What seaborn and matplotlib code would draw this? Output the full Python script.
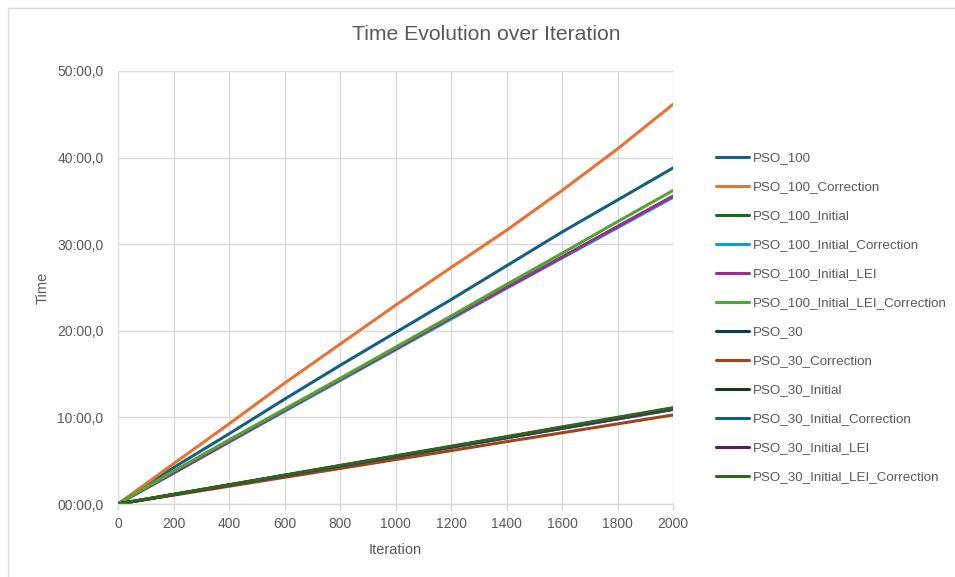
import matplotlib
matplotlib.use("Agg")
import matplotlib.pyplot as plt
from matplotlib.patches import Rectangle
from matplotlib.lines import Line2D
from matplotlib.ticker import FuncFormatter
import seaborn as sns
import pandas as pd

# ---- data (time in minutes) ----
iterations = [0, 200, 400, 600, 800, 1000, 1200, 1400, 1600, 1800, 2000]

series_names = [
    "PSO_100", "PSO_100_Correction", "PSO_100_Initial", "PSO_100_Initial_Correction",
    "PSO_100_Initial_LEI", "PSO_100_Initial_LEI_Correction", "PSO_30", "PSO_30_Correction",
    "PSO_30_Initial", "PSO_30_Initial_Correction", "PSO_30_Initial_LEI",
    "PSO_30_Initial_LEI_Correction",
]

pso_100 = [0, 4.2, 8.1, 12.1, 16.0, 19.8, 23.6, 27.5, 31.4, 35.1, 38.8]
pso_100_correction = [0, 4.65, 9.25, 13.95, 18.45, 22.95, 27.3, 31.6, 36.2, 41.0, 46.15]
pso_100_initial = [0, 3.6, 7.2, 10.8, 14.35, 17.9, 21.45, 25.0, 28.5, 32.0, 35.5]
pso_100_initial_correction = [0, 3.55, 7.15, 10.7, 14.25, 17.8, 21.35, 24.9, 28.4, 31.9, 35.4]
pso_100_initial_lei = [0, 3.6, 7.2, 10.8, 14.35, 17.9, 21.5, 25.0, 28.5, 32.05, 35.55]
pso_100_initial_lei_correction = [0, 3.8, 7.4, 10.95, 14.5, 18.1, 21.7, 25.35, 28.95, 32.6, 36.2]
pso_30 = [0, 1.08, 2.17, 3.27, 4.37, 5.46, 6.55, 7.65, 8.75, 9.85, 10.95]
pso_30_correction = [0, 1.02, 2.05, 3.08, 4.1, 5.13, 6.16, 7.2, 8.22, 9.25, 10.28]
pso_30_initial = [0, 1.1, 2.2, 3.31, 4.42, 5.52, 6.63, 7.73, 8.84, 9.95, 11.05]
pso_30_initial_correction = [0, 1.09, 2.18, 3.27, 4.36, 5.45, 6.54, 7.63, 8.72, 9.81, 10.9]
pso_30_initial_lei = [0, 1.1, 2.2, 3.3, 4.4, 5.5, 6.6, 7.7, 8.8, 9.9, 11.0]
pso_30_initial_lei_correction = [0, 1.11, 2.22, 3.34, 4.45, 5.56, 6.67, 7.78, 8.9, 10.01, 11.12]

all_values = [
    pso_100, pso_100_correction, pso_100_initial, pso_100_initial_correction,
    pso_100_initial_lei, pso_100_initial_lei_correction, pso_30, pso_30_correction,
    pso_30_initial, pso_30_initial_correction, pso_30_initial_lei,
    pso_30_initial_lei_correction,
]

colors = [
    "#156082", "#E97132", "#196B24", "#0F9ED5", "#A02B93", "#4EA72E",
    "#0C3A4E", "#A0441A", "#0F4016", "#0A6384", "#601A58", "#2F661B",
]

y_ticks_minutes = [0, 10, 20, 30, 40, 50]
x_ticks = [0, 200, 400, 600, 800, 1000, 1200, 1400, 1600, 1800, 2000]

rows = []
for name, vals in zip(series_names, all_values):
    for it, v in zip(iterations, vals):
        rows.append({"Iteration": it, "Time": v, "Series": name})
df = pd.DataFrame(rows)

# ---- plotting ----
sns.set_theme(style="white")
plt.rcParams["font.family"] = ["Liberation Sans", "DejaVu Sans"]

W, H = 955, 577
fig = plt.figure(figsize=(W / 100, H / 100), dpi=100)
ax = fig.add_axes([118 / W, 1 - 504 / H, (673 - 118) / W, (504 - 71) / H])

sns.lineplot(data=df, x="Iteration", y="Time", hue="Series", hue_order=series_names,
             palette=colors, linewidth=2.2, ax=ax, legend=False, sort=False)

ax.set_xlim(0, 2000)
ax.set_ylim(0, 50)
ax.set_xticks(x_ticks)
ax.set_yticks(y_ticks_minutes)

def fmt(v, pos):
    m = int(round(v))
    return f"{m:02d}:00,0"
ax.yaxis.set_major_formatter(FuncFormatter(fmt))

grid_c = "#D9D9D9"
ax.grid(True, color=grid_c, linewidth=1.0)
ax.set_axisbelow(True)
for s in ["top", "right", "left"]:
    ax.spines[s].set_visible(False)
ax.spines["bottom"].set_color(grid_c)
ax.spines["bottom"].set_linewidth(1.0)

ax.tick_params(axis="x", labelcolor="#595959", labelsize=10, length=4, width=1.0,
               direction="out", bottom=True, pad=5, color=grid_c)
ax.tick_params(axis="y", labelcolor="#595959", labelsize=10, length=0, pad=10.5)

ax.set_xlabel("Iteration", color="#595959", fontsize=10.5, labelpad=9)
ax.set_ylabel("Time", color="#595959", fontsize=10.5, labelpad=5)

fig.text(486 / W, 1 - 35 / H, "Time Evolution over Iteration",
         ha="center", va="center", fontsize=15.2, color="#595959")

handles = [Line2D([0], [0], color=c, lw=2.2) for c in colors]
fig.legend(handles, series_names, loc="upper left",
           bbox_to_anchor=(716 / W, 1 - 152 / H), frameon=False,
           fontsize=9.6, labelcolor="#595959", handlelength=2.45,
           handletextpad=0.3, labelspacing=1.25, borderaxespad=0, borderpad=0)

fig.patches.append(Rectangle((8 / W, -0.01), (W - 8) / W + 0.01, 1 - 8 / H + 0.01,
                             transform=fig.transFigure, fill=False,
                             edgecolor="#D9D9D9", linewidth=1.0))

fig.savefig("out.png", dpi=100, facecolor="white")
